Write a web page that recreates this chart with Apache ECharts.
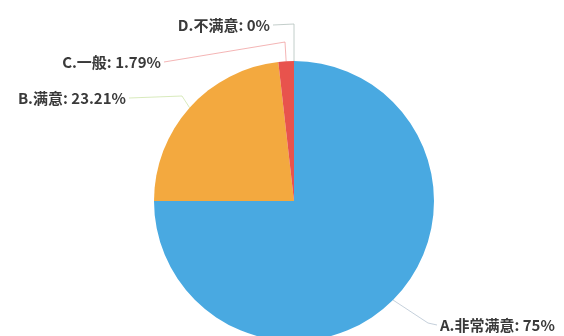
<!DOCTYPE html>
<html><head><meta charset="utf-8">
<script src="https://cdn.jsdelivr.net/npm/echarts@6/dist/echarts.min.js"></script>
<style>html,body{margin:0;padding:0;background:#fff}#c{width:564px;height:336px}</style>
</head><body><div id="c"></div>
<script>
const categories = ['A.非常满意', 'B.满意', 'C.一般', 'D.不满意'];
const values = [75, 23.21, 1.79, 0];
const colors = ['#49a9e1', '#f3a93f', '#e8534d', '#9fc8a0'];
const lineColors = ['rgba(150,170,190,0.55)', 'rgba(200,225,160,0.7)', 'rgba(235,120,120,0.55)', 'rgba(170,185,180,0.7)'];

// label anchor: [x, y, align, elbowX, elbowY]
const labelPos = [
  [440, 325, 'left', 428, 323],
  [126, 98, 'right', 182, 96],
  [161, 62, 'right', 285, 42],
  [270, 25, 'right', 294, 24]
];

const chart = echarts.init(document.getElementById('c'));
chart.setOption({
  animation: false,
  series: [{
    type: 'pie',
    center: [294, 201],
    radius: 140,
    startAngle: 90,
    clockwise: true,
    minShowLabelAngle: 0,
    avoidLabelOverlap: false,
    data: categories.map((n, i) => ({
      name: n, value: values[i],
      itemStyle: { color: colors[i] },
      labelLine: { lineStyle: { color: lineColors[i], width: 1 } }
    })),
    label: {
      show: true,
      formatter: p => p.name + ': ' + p.value + '%',
      color: '#3a3a3a',
      fontSize: 15,
      fontWeight: 'bold',
      fontFamily: '"Noto Sans CJK SC", sans-serif'
    },
    labelLine: { show: true, length: 20, length2: 10, smooth: false },
    labelLayout: function (params) {
      const i = params.dataIndex;
      const lp = labelPos[i];
      const pts = params.labelLinePoints;
      const start = pts ? pts[0] : [lp[3], lp[4]];
      const endX = lp[2] === 'left' ? lp[0] - 3 : lp[0] + 3;
      return {
        x: lp[0], y: lp[1], align: lp[2], verticalAlign: 'middle',
        labelLinePoints: [start, [lp[3], lp[4]], [endX, lp[1]]]
      };
    }
  }]
});
</script></body></html>
